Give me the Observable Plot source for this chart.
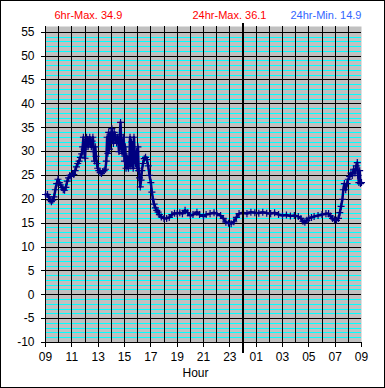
<!DOCTYPE html>
<html>
<head>
<meta charset="utf-8">
<script src="https://cdn.jsdelivr.net/npm/d3@7"></script>
<script src="https://cdn.jsdelivr.net/npm/@observablehq/plot@0.6"></script>
<style>
  body { margin: 0; background: #fff; }
  svg { outline: 1px solid #000; outline-offset: -1px; }
</style>
</head>
<body>
<div id="chart"></div>
<script>
// hours since 09:00
const hours = [
  0.00,0.15,0.25,0.35,0.45,0.55,0.65,0.75,0.85,0.95,1.05,1.15,1.25,1.35,1.45,1.55,1.65,1.75,1.85,1.95,
  2.05,2.15,2.25,2.35,2.45,2.55,2.65,2.75,2.82,2.88,2.94,3.00,3.06,3.12,3.18,3.24,3.30,3.36,3.42,3.48,
  3.54,3.60,3.66,3.72,3.78,3.84,3.90,3.96,4.05,4.15,4.25,4.35,4.45,4.55,4.62,4.68,4.74,4.80,4.86,4.92,
  4.98,5.04,5.10,5.16,5.22,5.28,5.34,5.40,5.46,5.52,5.58,5.64,5.70,5.76,5.82,5.88,5.94,6.00,6.06,6.12,
  6.18,6.24,6.30,6.36,6.42,6.48,6.54,6.60,6.66,6.72,6.78,6.84,6.90,6.96,7.02,7.08,7.14,7.20,7.26,7.32,
  7.40,7.50,7.60,7.70,7.80,7.90,8.00,8.08,8.16,8.25,8.35,8.45,8.55,8.65,8.80,9.00,9.20,9.40,9.60,9.80,
  10.00,10.20,10.40,10.60,10.80,11.00,11.20,11.50,11.70,12.00,12.20,12.50,12.80,13.00,13.30,13.50,13.70,13.90,14.10,14.30,
  14.50,14.70,15.00,15.30,15.60,15.90,16.20,16.50,16.80,17.10,17.40,17.70,18.00,18.30,18.60,18.90,19.20,19.40,19.55,19.70,
  19.85,20.00,20.20,20.40,20.70,21.00,21.30,21.50,21.65,21.80,21.95,22.10,22.25,22.35,22.45,22.55,22.62,22.70,22.80,22.90,
  23.00,23.10,23.20,23.30,23.40,23.50,23.60,23.68,23.74,23.80,23.86,23.92,24.00
];
const temps = [
  21.0,21.0,20.5,19.8,19.5,19.8,20.5,22.0,23.3,24.2,23.5,23.0,22.5,22.0,21.9,22.5,23.8,24.5,25.0,24.8,
  25.4,25.2,26.0,26.8,27.5,28.0,28.8,29.5,31.0,33.0,30.5,28.6,31.5,33.0,32.5,31.0,32.5,33.0,31.5,31.0,
  32.2,33.0,30.0,28.0,31.0,29.0,27.5,26.5,26.0,25.6,25.4,25.8,26.0,26.3,28.0,33.0,29.6,34.0,30.5,32.0,
  33.5,34.8,33.0,31.7,34.0,33.5,32.5,31.8,33.0,32.5,30.0,33.5,36.1,31.0,29.6,30.5,33.0,28.0,31.0,26.5,
  29.0,27.0,26.5,28.0,33.0,27.0,32.0,28.5,26.5,33.0,29.0,27.5,30.0,26.5,31.0,26.0,24.5,22.6,24.0,26.0,
  27.5,28.5,28.8,28.3,27.0,25.0,23.5,21.5,20.0,19.0,18.2,17.7,17.3,16.8,16.3,16.0,16.0,16.2,16.8,17.1,
  17.0,17.2,17.0,17.7,17.2,16.6,16.8,17.3,16.8,16.4,16.8,17.0,17.2,17.0,16.6,16.0,15.2,15.0,14.9,15.3,
  16.2,17.0,17.2,17.0,17.3,17.2,17.1,17.3,17.1,17.0,17.2,16.8,16.6,16.7,16.5,16.6,16.4,16.0,15.4,15.2,
  15.6,16.0,16.2,16.4,16.6,16.8,17.0,17.0,16.5,16.0,15.7,15.6,16.0,17.2,18.5,20.0,22.0,23.3,22.0,23.3,
  24.2,24.8,25.5,25.0,26.3,25.5,27.0,27.7,25.0,23.5,26.0,23.3,23.5
];
const xTicks = [0,2,4,6,8,10,12,14,16,18,20,22,24];
const yTicks = [-10,-5,0,5,10,15,20,25,30,35,40,45,50,55];
const majorX = d3.range(0, 24, 1);
const minorY = d3.range(-10, 56, 1).filter(v => v % 5 !== 0);
const midnight = [15];
const title6hMax = "6hr-Max. 34.9";
const title24hMax = "24hr-Max. 36.1";
const title24hMin = "24hr-Min. 14.9";

const data = hours.map((h, i) => ({h, t: temps[i]}));
const fmt = d => String((9 + d) % 24).padStart(2, "0");
const titleOpts = {frameAnchor: "top-left", dy: -11, textAnchor: "start", lineAnchor: "middle", fontSize: 11};

const chart = Plot.plot({
  width: 385,
  height: 388,
  marginLeft: 45,
  marginRight: 24,
  marginTop: 26,
  marginBottom: 46,
  style: {fontFamily: "Arial, 'Liberation Sans', sans-serif", fontSize: "12px", background: "#fff", color: "#000"},
  x: {domain: [0, 24], axis: null},
  y: {domain: [-10, 56.2], axis: null},
  marks: [
    Plot.frame({fill: "#c0c0c0", stroke: null}),
    Plot.ruleY(minorY, {stroke: "#00ffff", strokeWidth: 1, shapeRendering: "crispEdges"}),
    Plot.ruleY(yTicks, {stroke: "#000", strokeWidth: 1, shapeRendering: "crispEdges"}),
    Plot.ruleX(majorX, {stroke: "#000", strokeWidth: 1, shapeRendering: "crispEdges"}),
    Plot.line(data, {x: "h", y: "t", stroke: "#000080", strokeWidth: 2.5}),
    Plot.dot(data, {x: "h", y: "t", symbol: "plus", r: 2.4, stroke: "#000080", strokeWidth: 1.2}),
    Plot.ruleX(midnight, {y1: -12.3, y2: 56.8, stroke: "#000", strokeWidth: 2, clip: false, shapeRendering: "crispEdges"}),
    Plot.axisY({ticks: yTicks, tickSize: 4, tickPadding: 7, label: null, tickFormat: d => String(d), fontSize: 12, shapeRendering: "crispEdges"}),
    Plot.axisX({ticks: xTicks, tickSize: 5, tickPadding: 5, label: null, tickFormat: fmt, fontSize: 12, shapeRendering: "crispEdges"}),
    Plot.text([title6hMax], {...titleOpts, dx: 9, fill: "#ff0000"}),
    Plot.text([title24hMax], {...titleOpts, dx: 147, fill: "#ff0000"}),
    Plot.text([title24hMin], {...titleOpts, dx: 245, fill: "#3366ff"}),
    Plot.text(["Hour"], {frameAnchor: "bottom", dx: -8, dy: 31, lineAnchor: "middle", fontSize: 12})
  ]
});
document.getElementById("chart").appendChild(chart);
</script>
</body>
</html>
